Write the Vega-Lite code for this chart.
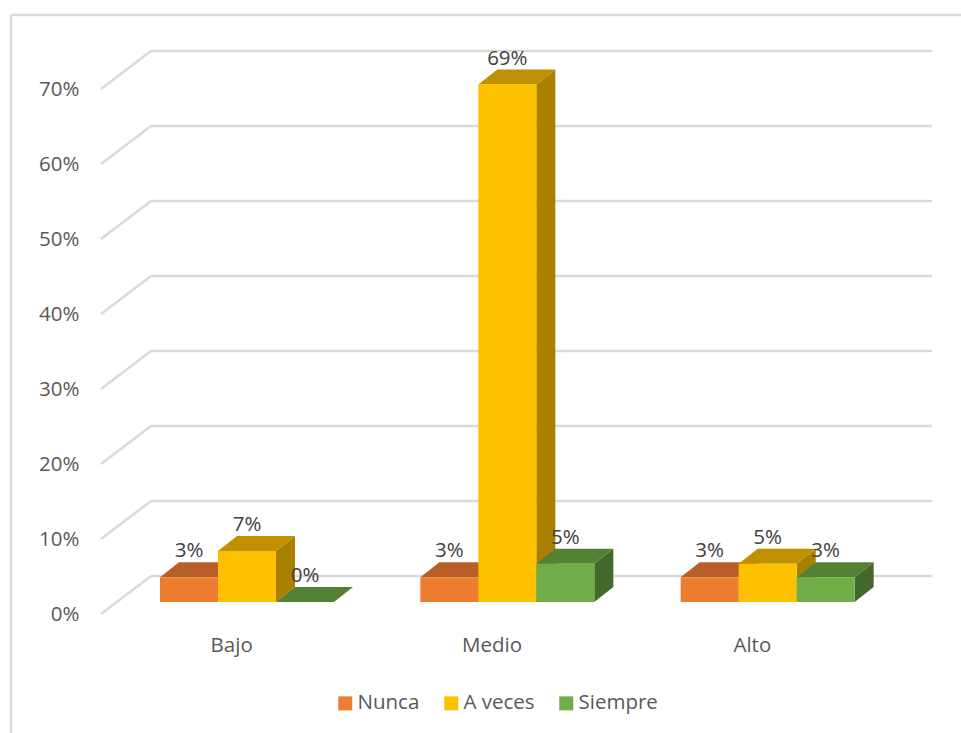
{
"$schema":"https://vega.github.io/schema/vega-lite/v6.json",
"width":831,"height":563,
"autosize":{"type":"none"},
"padding":{"left":101,"top":51,"right":29,"bottom":119},
"background":"white",
"config":{"view":{"stroke":null},"font":"Open Sans"},
"datasets":{
"barras":[
{"nivel":"Bajo","serie":"Nunca","valor":0.033},
{"nivel":"Bajo","serie":"A veces","valor":0.068},
{"nivel":"Bajo","serie":"Siempre","valor":0},
{"nivel":"Medio","serie":"Nunca","valor":0.033},
{"nivel":"Medio","serie":"A veces","valor":0.69},
{"nivel":"Medio","serie":"Siempre","valor":0.051},
{"nivel":"Alto","serie":"Nunca","valor":0.033},
{"nivel":"Alto","serie":"A veces","valor":0.051},
{"nivel":"Alto","serie":"Siempre","valor":0.033}
],
"ticks":[{"t":0},{"t":0.1},{"t":0.2},{"t":0.3},{"t":0.4},{"t":0.5},{"t":0.6},{"t":0.7}],
"marco":[{"xa":-0.3457,"xb":3.3035,"ya":0.7987,"yb":-0.1587}]
},
"layer":[
{"data":{"name":"marco"},"mark":{"type":"rule","color":"#DADADA","strokeWidth":2.5},
 "encoding":{"x":{"field":"xa","type":"quantitative","scale":{"domain":[0,3.1921],"nice":false,"zero":false},
   "axis":{"title":null,"values":[0.5,1.5,2.5],"grid":false,"ticks":false,"domain":false,"labelExpr":"['Bajo','Medio','Alto'][floor(datum.value)]","labelFont":"Open Sans","labelFontSize":20.5,"labelColor":"#595959","labelPadding":21,"labelFontWeight":"normal"}},
  "y":{"field":"ya","type":"quantitative","scale":{"domain":[0,0.7507],"nice":false,"zero":false},
   "axis":{"title":null,"values":[0,0.1,0.2,0.3,0.4,0.5,0.6,0.7],"format":".0%","grid":false,"ticks":false,"domain":false,"labelFont":"Open Sans","labelFontSize":20.5,"labelColor":"#595959","labelPadding":22}},
  "y2":{"field":"yb"}}},
{"data":{"name":"marco"},"mark":{"type":"rule","color":"#DADADA","strokeWidth":2.5},
 "encoding":{"x":{"field":"xa","type":"quantitative"},"x2":{"field":"xb"},"y":{"field":"ya","type":"quantitative"}}},
{"data":{"name":"ticks"},"transform":[{"calculate":"datum.t+0.0507","as":"tb"},{"calculate":"0.1921","as":"xb"},{"calculate":"3.1921","as":"xe"}],
 "mark":{"type":"rule","color":"#DADADA","strokeWidth":2.5},
 "encoding":{"x":{"field":"xb","type":"quantitative"},"x2":{"field":"xe"},"y":{"field":"tb","type":"quantitative"}}},
{"data":{"name":"ticks"},"transform":[{"calculate":"datum.t+0.0507","as":"tb"},{"calculate":"0","as":"xa"},{"calculate":"0.1921","as":"xb"}],
 "mark":{"type":"rule","color":"#DADADA","strokeWidth":2.5},
 "encoding":{"x":{"field":"xa","type":"quantitative"},"x2":{"field":"xb"},"y":{"field":"t","type":"quantitative"},"y2":{"field":"tb"}}},
{"data":{"name":"barras"},
 "transform":[
  {"calculate":"indexof(['Bajo','Medio','Alto'],datum.nivel)+0.2266+0.2228*indexof(['Nunca','A veces','Siempre'],datum.serie)","as":"xl"},
  {"calculate":"[0,1]","as":"k"},{"flatten":["k"]},
  {"calculate":"datum.xl+0.2228+datum.k*0.073","as":"xp"},
  {"calculate":"0.016+datum.valor+datum.k*0.02","as":"yt"},
  {"calculate":"0.016+datum.k*0.02","as":"yb"},
  {"calculate":"datum.nivel+datum.serie","as":"barra"}],
 "mark":{"type":"area"},
 "encoding":{"x":{"field":"xp","type":"quantitative"},"y":{"field":"yt","type":"quantitative"},"y2":{"field":"yb"},
  "detail":{"field":"barra"},
  "color":{"field":"serie","type":"nominal","legend":null,"scale":{"domain":["Nunca","A veces","Siempre"],"range":["#A5551F","#A98000","#43682B"]}}}},
{"data":{"name":"barras"},
 "transform":[
  {"calculate":"indexof(['Bajo','Medio','Alto'],datum.nivel)+0.2266+0.2228*indexof(['Nunca','A veces','Siempre'],datum.serie)","as":"xl"},
  {"calculate":"[0,1,2,3]","as":"k"},{"flatten":["k"]},
  {"calculate":"datum.xl+[0,0.073,0.2228,0.2958][datum.k]","as":"xp"},
  {"calculate":"0.016+datum.valor+[0,0.02,0.02,0.02][datum.k]","as":"yt"},
  {"calculate":"0.016+datum.valor+[0,0,0,0.02][datum.k]","as":"yb"},
  {"calculate":"datum.nivel+datum.serie","as":"barra"}],
 "mark":{"type":"area"},
 "encoding":{"x":{"field":"xp","type":"quantitative"},"y":{"field":"yt","type":"quantitative"},"y2":{"field":"yb"},
  "detail":{"field":"barra"},
  "color":{"field":"serie","type":"nominal","legend":null,"scale":{"domain":["Nunca","A veces","Siempre"],"range":["#B85F27","#BF9000","#548235"]}}}},
{"data":{"name":"barras"},
 "transform":[
  {"calculate":"indexof(['Bajo','Medio','Alto'],datum.nivel)+0.2266+0.2228*indexof(['Nunca','A veces','Siempre'],datum.serie)","as":"xl"},
  {"calculate":"datum.xl+0.2228","as":"xr"},
  {"calculate":"0.016+datum.valor","as":"yt"},
  {"calculate":"0.016","as":"yb"}],
 "mark":{"type":"rect"},
 "encoding":{"x":{"field":"xl","type":"quantitative"},"x2":{"field":"xr"},"y":{"field":"yt","type":"quantitative"},"y2":{"field":"yb"},
  "fill":{"field":"serie","type":"nominal","scale":{"domain":["Nunca","A veces","Siempre"],"range":["#ED7D31","#FFC000","#70AD47"]},
   "legend":{"title":null,"orient":"none","direction":"horizontal","legendX":234,"legendY":642,"symbolType":"square","symbolSize":196,"symbolStrokeWidth":0,"labelFont":"Open Sans","labelFontSize":20.5,"labelColor":"#595959","labelOffset":2,"columnPadding":21,"symbolOpacity":1}}}},
{"data":{"name":"barras"},
 "transform":[
  {"calculate":"indexof(['Bajo','Medio','Alto'],datum.nivel)+0.2266+0.2228*indexof(['Nunca','A veces','Siempre'],datum.serie)+0.1114","as":"xc"},
  {"calculate":"0.036+datum.valor","as":"yt"}],
 "mark":{"type":"text","fontSize":20.5,"font":"Open Sans","color":"#404040","dy":-11,"baseline":"middle","align":"center"},
 "encoding":{"x":{"field":"xc","type":"quantitative"},"y":{"field":"yt","type":"quantitative"},"text":{"field":"valor","type":"quantitative","format":".0%"}}}
],
"resolve":{"scale":{"fill":"independent","color":"independent"}}
}
